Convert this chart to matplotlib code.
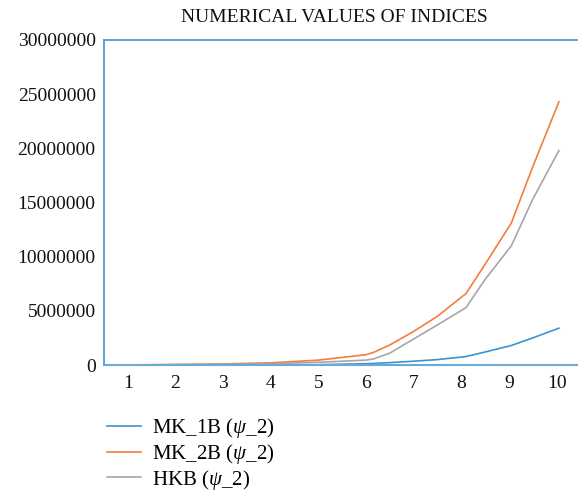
import matplotlib.pyplot as plt
import numpy as np

plt.rcParams['font.family'] = ['Liberation Serif', 'DejaVu Serif']
plt.rcParams['mathtext.fontset'] = 'custom'
plt.rcParams['mathtext.it'] = 'Liberation Serif:italic'
plt.rcParams['mathtext.rm'] = 'Liberation Serif'

x = [1, 2, 3, 4, 5, 6, 6.15, 6.5, 7, 7.5, 8.1, 8.5, 9.05, 9.5, 10.05]
mk1b = [-50000, -80000, -60000, -20000, 30000, 120000, 140000, 220000, 350000, 500000, 780000, 1200000, 1800000, 2500000, 3400000]
mk2b = [0, 50000, 100000, 200000, 450000, 950000, 1150000, 1850000, 3100000, 4500000, 6600000, 9300000, 13100000, 18300000, 24300000]
hkb = [0, 30000, 60000, 120000, 250000, 450000, 550000, 1100000, 2400000, 3700000, 5300000, 7900000, 11000000, 15300000, 19800000]

blue = '#3d93cf'
orange = '#f47c3c'
gray = '#a6a6a6'

def main():
  fig = plt.figure(figsize=(5.78, 4.94), dpi=100)
  ax = fig.add_axes([104/578, 1 - 365/494, 1 - 104/578, 325/494])

  l1, = ax.plot(x, mk1b, color=blue, lw=1.2, label=r'MK_1B ($\psi$_2)')
  l2, = ax.plot(x, mk2b, color=orange, lw=1.2, label=r'MK_2B ($\psi$_2)')
  l3, = ax.plot(x, hkb, color=gray, lw=1.2, label=r'HKB ($\psi$_2)')

  ax.set_xlim(0.5, 10.45)
  ax.set_ylim(0, 30000000)
  ax.set_xticks(range(1, 11))
  ax.set_yticks(np.arange(0, 30000001, 5000000))
  ax.set_yticklabels([str(v) for v in range(0, 30000001, 5000000)])
  ax.tick_params(length=0, labelsize=14, colors='#111111')
  ax.tick_params(axis='x', pad=7)
  ax.tick_params(axis='y', pad=6)

  for s in ['left', 'top']:
    ax.spines[s].set_color(blue)
    ax.spines[s].set_linewidth(1.2)
  ax.spines['bottom'].set_color('#6aaad8')
  ax.spines['bottom'].set_linewidth(1.5)
  ax.spines['right'].set_visible(False)

  fig.text(0.5 + 45/578, 1 - 17/494, 'NUMERICAL VALUES OF INDICES', ha='center', va='center',
           fontsize=14, color='#111111')

  fig.legend(handles=[l1, l2, l3], loc='upper left', bbox_to_anchor=(99/578, 1 - 408/494),
             frameon=False, fontsize=15, handlelength=1.6, handletextpad=0.55,
             labelspacing=0.08, borderaxespad=0)

  plt.savefig('out.png')

if __name__ == '__main__':
  main()
